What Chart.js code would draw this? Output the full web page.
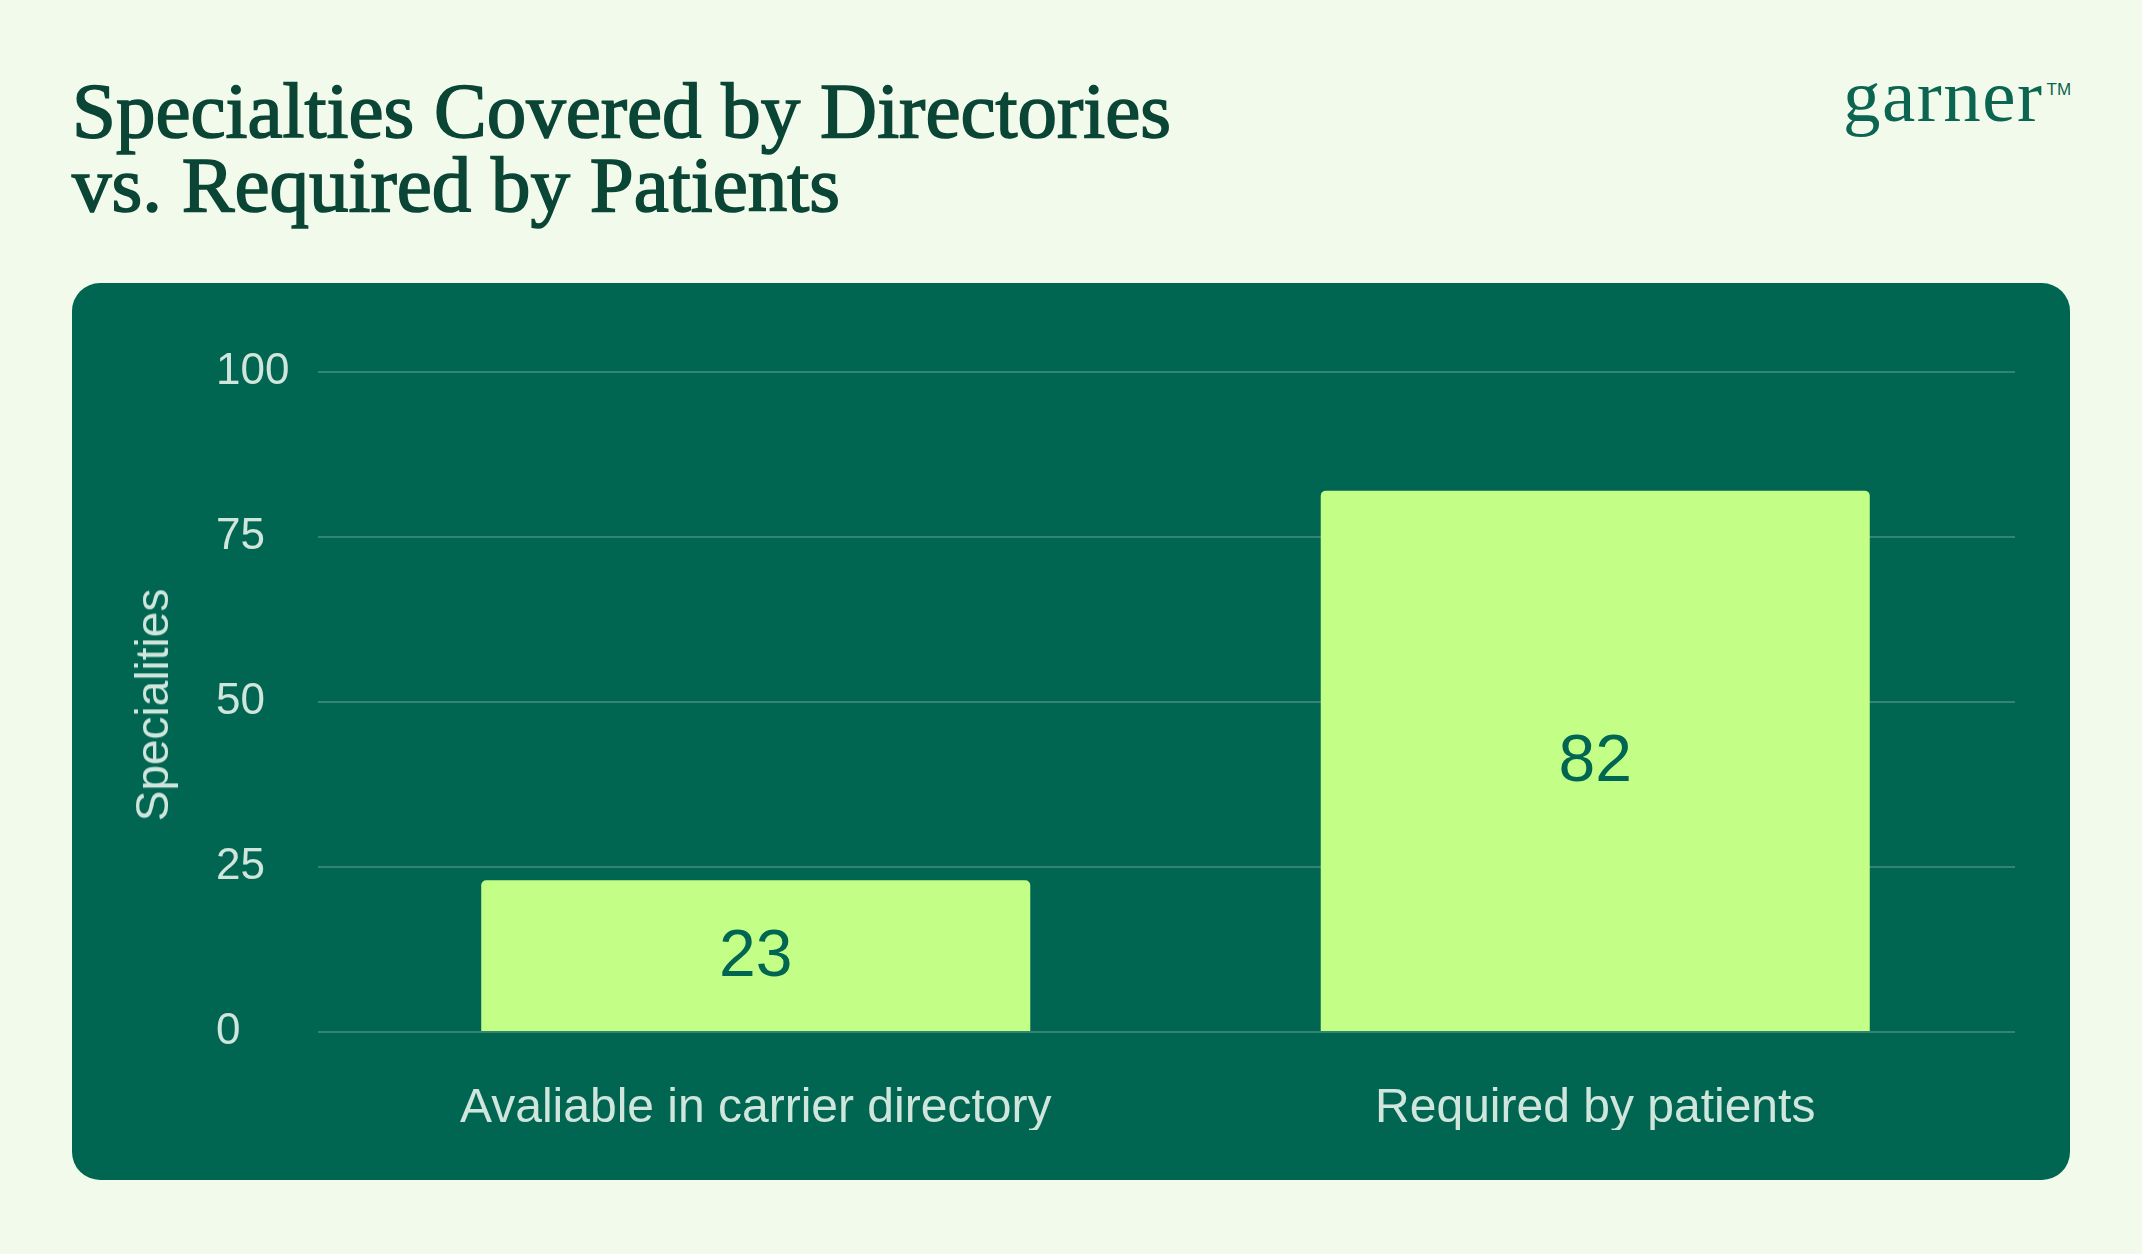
<!DOCTYPE html>
<html>
<head>
<meta charset="utf-8">
<title>Specialties Covered by Directories vs. Required by Patients</title>
<script src="https://cdn.jsdelivr.net/npm/chart.js@4.4.1/dist/chart.umd.min.js"></script>
<style>
    html, body { margin: 0; padding: 0; }
    body {
        width: 2142px;
        height: 1254px;
        background: #f2fbeb;
        position: relative;
        overflow: hidden;
        font-family: "Liberation Sans", Arial, sans-serif;
    }
    #title {
        position: absolute;
        left: 72px;
        top: 74px;
        font-family: "Liberation Serif", serif;
        font-size: 79px;
        line-height: 74px;
        color: #0a4535;
        -webkit-text-stroke: 1.6px #0a4535;
        white-space: nowrap;
    }
    #logo {
        position: absolute;
        left: 1843px;
        top: 50px;
        font-family: "Liberation Serif", serif;
        font-size: 75px;
        line-height: 80px;
        letter-spacing: 1.5px;
        color: #0c6550;
        white-space: nowrap;
    }
    #logo sup {
        font-family: "Liberation Sans", sans-serif;
        font-size: 17px;
        vertical-align: 26px;
        margin-left: 3px;
        letter-spacing: 0;
    }
    #panel {
        position: absolute;
        left: 72px;
        top: 283px;
        width: 1998px;
        height: 897px;
        background: #006651;
        border-radius: 28px;
    }
    #chart { position: absolute; left: 0; top: 0; }
    #ytitle {
        position: absolute;
        left: 80px;
        top: 422px;
        transform: translate(-50%, -50%) rotate(-90deg);
        font-size: 46px;
        color: #d0e6dd;
        white-space: nowrap;
    }
</style>
</head>
<body>
<div id="title">Specialties Covered by Directories<br>vs. Required by Patients</div>
<div id="logo">garner<sup>TM</sup></div>
<div id="panel">
    <canvas id="chart" width="1998" height="897"></canvas>
    <div id="ytitle">Specialities</div>
</div>

<script>
// データ
let categories = ["Avaliable in carrier directory", "Required by patients"];
let specialties = [23, 82];
let yTicks = [0, 25, 50, 75, 100];

let panelColor = "#006651";
let barColor = "#c3ff87";
let textColor = "#d0e6dd";
let gridColor = "rgba(255, 255, 255, 0.2)";

// バーの中に数値を描く
const barLabels = {
    id: "barLabels",
    afterDatasetsDraw(chart) {
        let ctx = chart.ctx;
        let meta = chart.getDatasetMeta(0);
        ctx.save();
        ctx.font = "66px 'Liberation Sans', Arial, sans-serif";
        ctx.fillStyle = panelColor;
        ctx.textAlign = "center";
        ctx.textBaseline = "middle";
        meta.data.forEach((bar, i) => {
            let value = chart.data.datasets[0].data[i];
            ctx.fillText(String(value), bar.x, (bar.y + bar.base) / 2 + 2);
        });
        ctx.restore();
    }
};

let chart = new Chart(document.getElementById("chart"), {
    type: "bar",
    data: {
        labels: categories,
        datasets: [{
            label: "Specialities",
            data: specialties,
            backgroundColor: barColor,
            borderRadius: { topLeft: 5, topRight: 5 },
            borderSkipped: "bottom",
            barPercentage: 0.654,
            categoryPercentage: 1.0,
        }]
    },
    options: {
        responsive: false,
        animation: false,
        layout: {
            padding: { left: 144, right: 55, top: 89, bottom: 50 }
        },
        plugins: {
            legend: { display: false },
            tooltip: { enabled: false },
        },
        scales: {
            x: {
                grid: { display: false, drawTicks: false },
                border: { display: false },
                afterFit: (axis) => {
                    axis.height = 98;
                },
                ticks: {
                    color: textColor,
                    padding: 48,
                    maxRotation: 0,
                    autoSkip: false,
                    font: { family: "'Liberation Sans', Arial, sans-serif", size: 48 },
                },
            },
            y: {
                min: 0,
                max: 100,
                afterBuildTicks: (axis) => {
                    axis.ticks = yTicks.map(v => ({ value: v }));
                },
                afterFit: (axis) => {
                    axis.width = 120;
                },
                grid: {
                    color: gridColor,
                    lineWidth: 2,
                    tickLength: 18,
                    tickWidth: 2,
                },
                border: { display: false },
                ticks: {
                    color: textColor,
                    crossAlign: "far",
                    font: { family: "'Liberation Sans', Arial, sans-serif", size: 44 },
                },
            },
        },
    },
    plugins: [barLabels],
});
</script>
</body>
</html>
